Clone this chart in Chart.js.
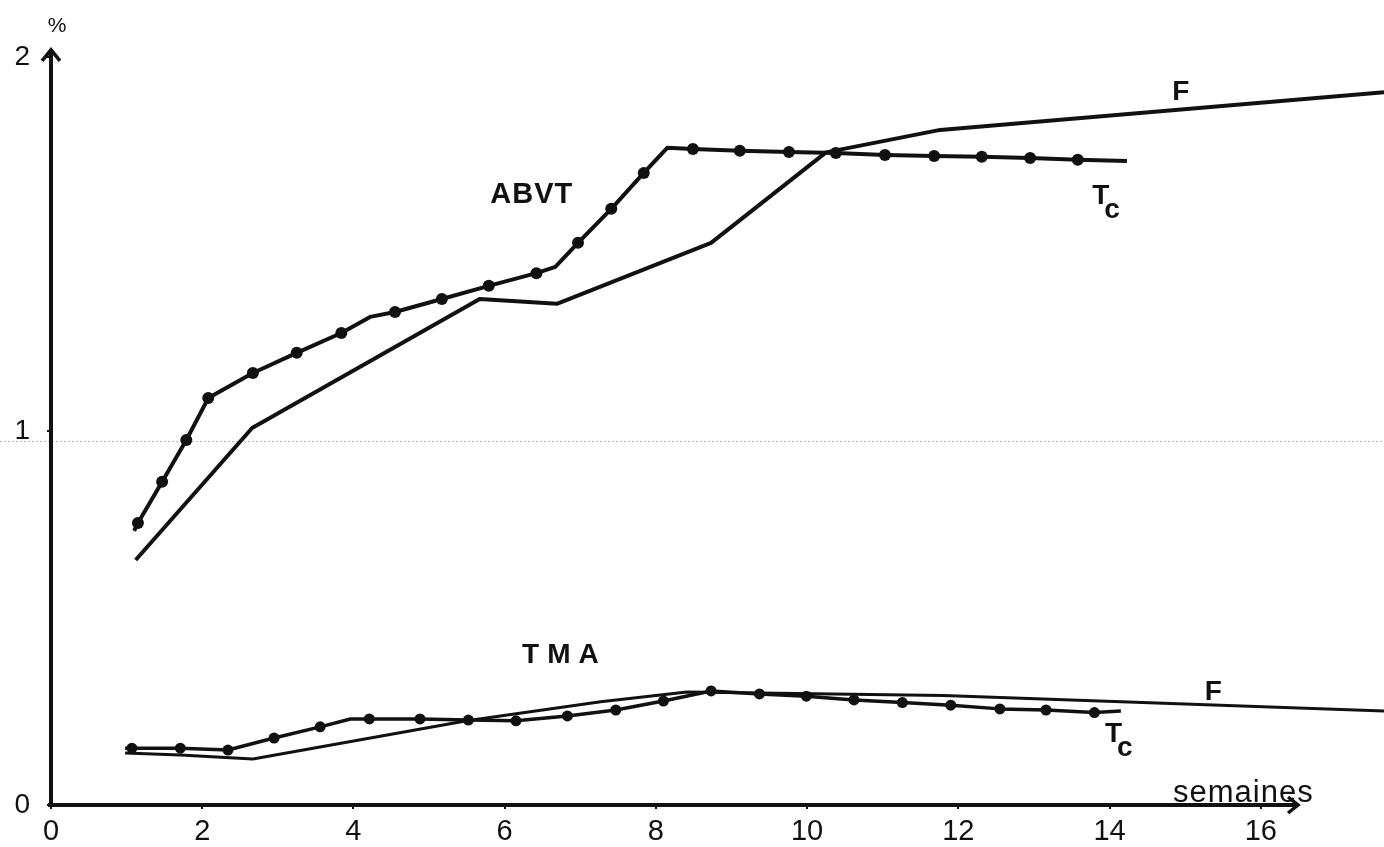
<!DOCTYPE html>
<html>
<head>
<meta charset="utf-8">
<script src="https://cdn.jsdelivr.net/npm/chart.js@4.4.1/dist/chart.umd.min.js"></script>
<style>
html,body{margin:0;padding:0;background:#fff;}
canvas{display:block;}
</style>
</head>
<body>
<canvas id="c" width="1384" height="847"></canvas>
<script>
// ---- data (weeks, %) ----
const xTickValues = [0, 2, 4, 6, 8, 10, 12, 14, 16];
const xTickLabels = ['0', '2', '4', '6', '8', '10', '12', '14', '16'];
const yTickValues = [0, 1, 2];
const yTickLabels = ['0', '1', '2'];

// ABVT, Tc (dotted curve)
const abvtTcX   = [1.10, 1.15, 1.47, 1.79, 2.08, 2.67, 3.25, 3.84, 4.22, 4.55, 5.17, 5.79, 6.42, 6.67, 6.97, 7.41, 7.84, 8.15, 8.49, 9.11, 9.76, 10.38, 11.03, 11.68, 12.31, 12.95, 13.58, 14.23];
const abvtTcY   = [0.733, 0.754, 0.864, 0.976, 1.088, 1.155, 1.209, 1.262, 1.305, 1.318, 1.353, 1.388, 1.422, 1.439, 1.503, 1.594, 1.690, 1.757, 1.754, 1.749, 1.746, 1.743, 1.738, 1.735, 1.733, 1.730, 1.725, 1.722];
const abvtTcDot = [0, 1, 1, 1, 1, 1, 1, 1, 0, 1, 1, 1, 1, 0, 1, 1, 1, 0, 1, 1, 1, 1, 1, 1, 1, 1, 1, 0];

// ABVT, F (plain curve)
const abvtFX = [1.12, 2.66, 5.67, 6.69, 8.73, 10.25, 11.76, 17.63];
const abvtFY = [0.655, 1.008, 1.353, 1.340, 1.503, 1.745, 1.805, 1.906];

// TMA, Tc (dotted curve)
const tmaTcX   = [0.98, 1.07, 1.71, 2.34, 2.95, 3.56, 3.96, 4.21, 4.88, 5.52, 6.15, 6.83, 7.47, 8.10, 8.73, 9.37, 9.99, 10.62, 11.26, 11.90, 12.55, 13.16, 13.80, 14.15];
const tmaTcY   = [0.152, 0.152, 0.152, 0.147, 0.179, 0.209, 0.230, 0.230, 0.230, 0.227, 0.225, 0.238, 0.254, 0.278, 0.305, 0.297, 0.291, 0.281, 0.274, 0.267, 0.257, 0.254, 0.247, 0.251];
const tmaTcDot = [0, 1, 1, 1, 1, 1, 0, 1, 1, 1, 1, 1, 1, 1, 1, 1, 1, 1, 1, 1, 1, 1, 1, 0];

// TMA, F (plain curve)
const tmaFX = [0.98, 1.71, 2.67, 5.50, 7.27, 8.41, 11.80, 17.63];
const tmaFY = [0.139, 0.134, 0.123, 0.225, 0.276, 0.302, 0.293, 0.251];

// ---- helpers ----
const FONT = "'Liberation Sans', Arial, Helvetica, sans-serif";
const INK = '#111';
const pts = (xs, ys) => xs.map((x, i) => ({ x: x, y: ys[i] }));

// text annotations placed in data units (x, y = baseline-left)
const notes = [
  { text: 'ABVT', x: 5.81, y: 1.610, size: 29, spacing: 1 },
  { text: 'TMA',  x: 6.23, y: 0.380, size: 28, spacing: 8 },
  { text: 'F',    x: 14.83, y: 1.885, size: 28, spacing: 0 },
  { text: 'F',    x: 15.26, y: 0.281, size: 28, spacing: 0 }
];
const subNotes = [
  { main: 'T', sub: 'c', x: 13.77, y: 1.607, size: 28 },
  { main: 'T', sub: 'c', x: 13.94, y: 0.168, size: 28 }
];

function drawSpaced(ctx, text, x, y, spacing) {
  let cx = x;
  for (const ch of text) {
    ctx.fillText(ch, cx, y);
    cx += ctx.measureText(ch).width + spacing;
  }
}

const decorPlugin = {
  id: 'decor',
  beforeDatasetsDraw(chart) {
    const { ctx } = chart;
    const ys = chart.scales.y;
    // faint scan fold line
    ctx.save();
    ctx.strokeStyle = 'rgba(0,0,0,0.28)';
    ctx.lineWidth = 1;
    ctx.setLineDash([2, 2]);
    const py = Math.round(ys.getPixelForValue(0.973)) + 0.5;
    ctx.beginPath();
    ctx.moveTo(0, py);
    ctx.lineTo(chart.width, py);
    ctx.stroke();
    ctx.restore();
  },
  afterDraw(chart) {
    const { ctx } = chart;
    const xs = chart.scales.x, ys = chart.scales.y;
    const x0 = xs.getPixelForValue(0), y0 = ys.getPixelForValue(0);
    const xEnd = xs.getPixelForValue(16.48);
    const yEnd = ys.getPixelForValue(2.019);
    ctx.save();
    ctx.strokeStyle = INK;
    ctx.lineWidth = 4;
    ctx.lineCap = 'butt';
    ctx.beginPath();
    ctx.moveTo(x0 - 3, y0);
    ctx.lineTo(xEnd, y0);
    ctx.moveTo(x0, y0 + 2);
    ctx.lineTo(x0, yEnd);
    ctx.stroke();
    // arrow heads
    ctx.lineWidth = 3.5;
    ctx.lineJoin = 'miter';
    ctx.beginPath();
    ctx.moveTo(xEnd - 9, y0 - 8);
    ctx.lineTo(xEnd + 1, y0);
    ctx.lineTo(xEnd - 9, y0 + 8);
    ctx.moveTo(x0 - 9, yEnd + 11);
    ctx.lineTo(x0, yEnd);
    ctx.lineTo(x0 + 9, yEnd + 11);
    ctx.stroke();

    ctx.fillStyle = INK;
    ctx.textBaseline = 'alphabetic';
    ctx.textAlign = 'left';
    for (const n of notes) {
      ctx.font = 'bold ' + n.size + 'px ' + FONT;
      drawSpaced(ctx, n.text, xs.getPixelForValue(n.x), ys.getPixelForValue(n.y), n.spacing);
    }
    for (const n of subNotes) {
      const px = xs.getPixelForValue(n.x), py = ys.getPixelForValue(n.y);
      ctx.font = 'bold ' + n.size + 'px ' + FONT;
      ctx.fillText(n.main, px, py);
      ctx.fillText(n.sub, px + 12, py + 14);
    }
    // axis titles
    ctx.font = '31px ' + FONT;
    drawSpaced(ctx, 'semaines', 1173, 802, 1);
    ctx.font = '21px ' + FONT;
    ctx.textAlign = 'center';
    ctx.fillText('%', x0 + 6, 32);
    ctx.restore();
  }
};

new Chart(document.getElementById('c'), {
  type: 'line',
  data: {
    datasets: [
      {
        label: 'ABVT Tc',
        data: pts(abvtTcX, abvtTcY),
        borderColor: INK, backgroundColor: INK, borderWidth: 4,
        pointRadius: c => abvtTcDot[c.dataIndex] ? 6 : 0,
        pointBorderWidth: 0, pointBackgroundColor: INK,
        borderJoinStyle: 'round', tension: 0
      },
      {
        label: 'ABVT F',
        data: pts(abvtFX, abvtFY),
        borderColor: INK, borderWidth: 4, pointRadius: 0,
        borderJoinStyle: 'round', tension: 0
      },
      {
        label: 'TMA Tc',
        data: pts(tmaTcX, tmaTcY),
        borderColor: INK, backgroundColor: INK, borderWidth: 3.5,
        pointRadius: c => tmaTcDot[c.dataIndex] ? 5.5 : 0,
        pointBorderWidth: 0, pointBackgroundColor: INK,
        borderJoinStyle: 'round', tension: 0
      },
      {
        label: 'TMA F',
        data: pts(tmaFX, tmaFY),
        borderColor: INK, borderWidth: 3, pointRadius: 0,
        borderJoinStyle: 'round', tension: 0
      }
    ]
  },
  options: {
    responsive: false,
    devicePixelRatio: 1,
    animation: false,
    events: [],
    layout: { padding: { top: 45, right: 0, left: 0, bottom: 0 } },
    plugins: { legend: { display: false }, tooltip: { enabled: false } },
    scales: {
      x: {
        type: 'linear', min: 0, max: 17.63,
        afterBuildTicks: s => { s.ticks = xTickValues.map(v => ({ value: v })); },
        afterFit: s => { s.height = 42; },
        ticks: {
          color: INK, padding: 6,
          font: { family: FONT, size: 29 },
          callback: v => xTickLabels[xTickValues.indexOf(v)]
        },
        grid: { drawOnChartArea: false, drawTicks: true, tickLength: 4, color: INK, lineWidth: 2 },
        border: { display: false }
      },
      y: {
        type: 'linear', min: 0, max: 2.032,
        afterBuildTicks: s => { s.ticks = yTickValues.map(v => ({ value: v })); },
        afterFit: s => { s.width = 51; },
        ticks: {
          color: INK, padding: 17,
          font: { family: FONT, size: 28 },
          callback: v => yTickLabels[yTickValues.indexOf(v)]
        },
        grid: { drawOnChartArea: false, drawTicks: true, tickLength: 4, color: INK, lineWidth: 2 },
        border: { display: false }
      }
    }
  },
  plugins: [decorPlugin]
});
</script>
</body>
</html>
